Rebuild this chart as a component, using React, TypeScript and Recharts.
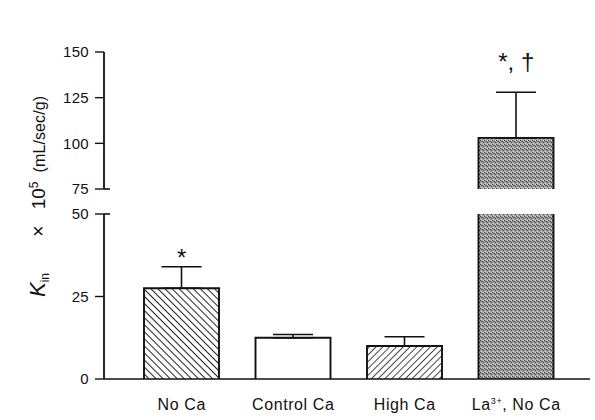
import React from 'react';
import { ComposedChart, Bar, Line, XAxis, YAxis, ErrorBar, Cell, LabelList } from 'recharts';

// ---- data ----
const categories = ['No Ca', 'Control Ca', 'High Ca', 'La³⁺, No Ca'];
const means = [27.5, 12.5, 10, 103];
const sems = [6.5, 1, 2.8, 25];
const sigMarks: (string | null)[] = ['*', null, null, '*, †'];
const lowerTicks = [0, 25, 50];
const upperTicks = [75, 100, 125, 150];
const LOWER_MAX = 50;
const UPPER_MIN = 75;
const UPPER_MAX = 150;

const table = categories.map((cat, i) => {
  const top = means[i] + sems[i];
  const inLower = top <= LOWER_MAX;
  const inUpper = means[i] >= UPPER_MIN;
  return {
    cat,
    lower: means[i],
    upper: inUpper ? means[i] : null,
    errLower: inLower ? [0, sems[i]] : null,
    errUpper: inUpper ? [0, sems[i]] : null,
    sigLowerY: sigMarks[i] && inLower ? top : null,
    sigLower: sigMarks[i] && inLower ? sigMarks[i] : null,
    sigUpperY: sigMarks[i] && inUpper ? top : null,
    sigUpper: sigMarks[i] && inUpper ? sigMarks[i] : null,
  };
});

// ---- styles ----
const FONT = '"Liberation Sans", Arial, Helvetica, sans-serif';
const INK = '#111';
const barFills = ['url(#hatchBack)', '#ffffff', 'url(#hatchFwd)', 'url(#stipple)'];
const W = 595;
const H = 420;
const AXIS_W = 104;
const RIGHT = 5;
const XPAD = { left: 22, right: 18 };
const TICK_SIZE = 9;
const TICK_MARGIN = 6;

const Defs = () => (
  <defs>
    <pattern id="hatchBack" width="5" height="5" patternUnits="userSpaceOnUse" patternTransform="rotate(-45)">
      <rect width="5" height="5" fill="#fff" />
      <line x1="2.5" y1="0" x2="2.5" y2="5" stroke="#222" strokeWidth="1.05" />
    </pattern>
    <pattern id="hatchFwd" width="4.8" height="4.8" patternUnits="userSpaceOnUse" patternTransform="rotate(45)">
      <rect width="4.8" height="4.8" fill="#fff" />
      <line x1="2.4" y1="0" x2="2.4" y2="4.8" stroke="#333" strokeWidth="0.9" />
    </pattern>
    <pattern id="stipple" width="4" height="4" patternUnits="userSpaceOnUse">
      <rect width="4" height="4" fill="#a0a0a0" />
      <rect x="0" y="0" width="1" height="1" fill="#444" />
      <rect x="2" y="1" width="1" height="1" fill="#555" />
      <rect x="1" y="3" width="1" height="1" fill="#d8d8d8" />
      <rect x="3" y="2" width="1" height="1" fill="#4a4a4a" />
      <rect x="3" y="0" width="1" height="1" fill="#dcdcdc" />
      <rect x="1" y="1" width="1" height="1" fill="#707070" />
    </pattern>
  </defs>
);

const BarShape = (props: any) => {
  const { x, y, width, height, fill } = props;
  if (height == null || isNaN(height) || Math.abs(height) < 0.5 || !width) return null;
  const top = Math.min(y, y + height);
  const bottom = Math.max(y, y + height);
  return (
    <g>
      <rect x={x} y={top} width={width} height={bottom - top} fill={fill} />
      <path d={`M${x},${bottom}V${top}H${x + width}V${bottom}`} fill="none" stroke={INK} strokeWidth={1.9} />
    </g>
  );
};

const YTick = (props: any) => {
  const { x, y, payload, caps } = props;
  const axisX = x + TICK_SIZE + TICK_MARGIN;
  const isCap = caps && caps.indexOf(payload.value) >= 0;
  return (
    <g>
      <text x={x} y={y} dy="0.36em" textAnchor="end" fill={INK} fontSize={15} letterSpacing={0.3} fontFamily={FONT}>
        {payload.value}
      </text>
      {isCap ? <line x1={axisX} y1={y} x2={axisX + 6} y2={y} stroke={INK} strokeWidth={1.6} /> : null}
    </g>
  );
};

const XTick = (props: any) => {
  const { x, y, payload } = props;
  const label: string = payload.value;
  const parts = label.split('³⁺');
  return (
    <text x={x} y={y} dy="0.71em" textAnchor="middle" fill={INK} fontSize={16} letterSpacing={0.6} fontFamily={FONT}>
      {parts.length > 1 ? (
        <>
          <tspan>{parts[0]}</tspan>
          <tspan fontSize={9} dy={-6}>3+</tspan>
          <tspan dy={6}>{parts[1]}</tspan>
        </>
      ) : (
        label
      )}
    </text>
  );
};

const YLabel = (props: any) => {
  const vb = props.viewBox || { x: 0, y: 0, width: AXIS_W, height: 0 };
  const ax = vb.x + 45;
  const ay = vb.y + vb.height - 82;
  return (
    <text x={ax} y={ay} transform={`rotate(-90 ${ax} ${ay})`} textAnchor="start" fill={INK} fontFamily={FONT}>
      <tspan fontSize={22} fontStyle="italic">K</tspan>
      <tspan fontSize={12} dy={4}>in</tspan>
      <tspan fontSize={20} dy={-4} dx={36}>×</tspan>
      <tspan fontSize={19} dx={16}>10</tspan>
      <tspan fontSize={12} dy={-7}>5</tspan>
      <tspan fontSize={16} dy={7} dx={9} letterSpacing={0.1}>(mL/sec/g)</tspan>
    </text>
  );
};

const SigLabel = (props: any) => {
  const { x, y, value, width, lift } = props;
  if (value == null || y == null) return null;
  const cx = x + (width || 0) / 2;
  return (
    <text x={cx} y={y - (lift || 0)} textAnchor="middle" fill={INK} fontSize={24} fontFamily={FONT}>
      {value}
    </text>
  );
};

export default function App() {
  return (
    <div style={{ position: 'absolute', left: 0, top: 0, width: W, height: H, background: '#fff' }}>
      {/* lower segment: 0 - 50 */}
      <div style={{ position: 'absolute', left: 0, top: 0 }}>
        <ComposedChart width={W} height={H} data={table} margin={{ top: 214, right: RIGHT, bottom: 11, left: 0 }}>
          <Defs />
          <XAxis
            dataKey="cat"
            padding={XPAD}
            axisLine={{ stroke: INK, strokeWidth: 1.6 }}
            tickLine={false}
            tickSize={0}
            tickMargin={20}
            height={30}
            interval={0}
            tick={<XTick />}
          />
          <YAxis
            type="number"
            domain={[0, LOWER_MAX]}
            ticks={lowerTicks}
            allowDataOverflow
            width={AXIS_W}
            axisLine={{ stroke: INK, strokeWidth: 1.8 }}
            tickLine={{ stroke: INK, strokeWidth: 1.4 }}
            tickSize={TICK_SIZE}
            tickMargin={TICK_MARGIN}
            tick={<YTick caps={[LOWER_MAX]} />}
            label={<YLabel />}
          />
          <Bar dataKey="lower" barSize={75} isAnimationActive={false} shape={<BarShape />}>
            {table.map((d, i) => (
              <Cell key={d.cat} fill={barFills[i]} />
            ))}
            <ErrorBar dataKey="errLower" width={20} stroke={INK} strokeWidth={1.6} direction="y" />
          </Bar>
          <Line dataKey="sigLowerY" stroke="none" dot={false} activeDot={false} isAnimationActive={false}>
            <LabelList dataKey="sigLower" content={<SigLabel lift={1} />} />
          </Line>
        </ComposedChart>
      </div>
      {/* upper segment: 75 - 150 */}
      <div style={{ position: 'absolute', left: 0, top: 0 }}>
        <ComposedChart width={W} height={200} data={table} margin={{ top: 52, right: RIGHT, bottom: 11, left: 0 }}>
          <Defs />
          <XAxis dataKey="cat" padding={XPAD} hide />
          <YAxis
            type="number"
            domain={[UPPER_MIN, UPPER_MAX]}
            ticks={upperTicks}
            allowDataOverflow
            width={AXIS_W}
            axisLine={{ stroke: INK, strokeWidth: 1.8 }}
            tickLine={{ stroke: INK, strokeWidth: 1.4 }}
            tickSize={TICK_SIZE}
            tickMargin={TICK_MARGIN}
            tick={<YTick caps={[UPPER_MIN]} />}
          />
          <Bar dataKey="upper" barSize={75} isAnimationActive={false} shape={<BarShape />}>
            {table.map((d, i) => (
              <Cell key={d.cat} fill={barFills[i]} />
            ))}
            <ErrorBar dataKey="errUpper" width={20} stroke={INK} strokeWidth={1.6} direction="y" />
          </Bar>
          <Line dataKey="sigUpperY" stroke="none" dot={false} activeDot={false} isAnimationActive={false}>
            <LabelList dataKey="sigUpper" content={<SigLabel lift={22} />} />
          </Line>
        </ComposedChart>
      </div>
    </div>
  );
}
